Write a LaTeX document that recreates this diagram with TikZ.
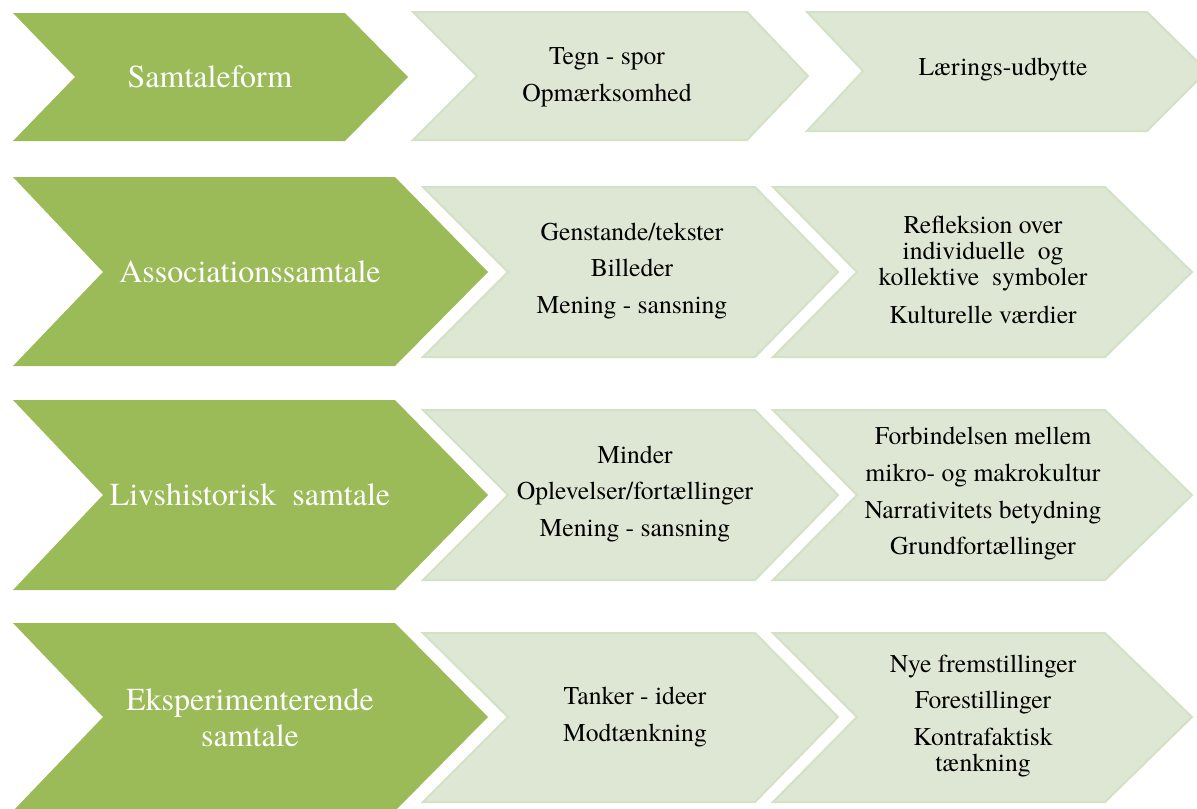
\documentclass[tikz,border=0pt]{standalone}
\usepackage{fontspec}
\setmainfont{TeX Gyre Termes}
\definecolor{olive}{RGB}{155,187,89}
\definecolor{pale}{RGB}{222,231,211}
\definecolor{paleline}{RGB}{212,225,196}
\tikzset{
  greentxt/.style={text=white,align=center,font=\fontsize{24}{27}\selectfont},
  blacktxt/.style={text=black,align=center,font=\fontsize{19.2}{19.5}\selectfont},
  palefill/.style={fill=pale,draw=paleline,line width=1.5}
}
\begin{document}
\begin{tikzpicture}[x=0.75pt,y=-0.75pt]
\clip (0,0) rectangle (1197,808);
\fill[white] (0,0) rectangle (1197,808);
% row 1
\fill[olive] (13,13) -- (345,13) -- (408,77) -- (345,141) -- (13,141) -- (75,77) -- cycle;
\draw[palefill] (413,12) -- (747,12) -- (808,76) -- (747,140) -- (413,140) -- (477,76) -- cycle;
\draw[palefill] (807,12) -- (1147,12) -- (1207,71) -- (1147,131) -- (807,131) -- (863,71) -- cycle;
\node[greentxt] (form) at (210,77) {Samtaleform};
\node[blacktxt] (tegn) at (607,77) {Tegn - spor\\[8pt]Opmærksomhed};
\node[blacktxt] (udbytte) at (1003,70) {Lærings-udbytte};
% row 2
\fill[olive] (13,177) -- (395,177) -- (488,272) -- (395,366) -- (13,366) -- (103,272) -- cycle;
\draw[palefill] (423,187) -- (755,187) -- (838,272) -- (755,357) -- (423,357) -- (508,272) -- cycle;
\draw[palefill] (773,187) -- (1105,187) -- (1192,272) -- (1105,357) -- (773,357) -- (857,272) -- cycle;
\node[greentxt] (assoc) at (250,272) {Associationssamtale};
\node[blacktxt] (genstande) at (632,271) {Genstande/tekster\\[8pt]Billeder\\[8pt]Mening - sansning};
\node[blacktxt] (refleksion) at (983,270) {Refleksion over\\individuelle\ \ og\\kollektive\ \ symboler\\[9pt]Kulturelle\ værdier};
% row 3
\fill[olive] (13,400) -- (395,400) -- (488,495) -- (395,590) -- (13,590) -- (103,495) -- cycle;
\draw[palefill] (423,410) -- (755,410) -- (838,495) -- (755,580) -- (423,580) -- (508,495) -- cycle;
\draw[palefill] (773,410) -- (1105,410) -- (1192,495) -- (1105,580) -- (773,580) -- (857,495) -- cycle;
\node[greentxt] (livs) at (250,495) {Livshistorisk\ \ samtale};
\node[blacktxt] (minder) at (635,494) {Minder\\[8pt]Oplevelser/fortællinger\\[8pt]Mening - sansning};
\node[blacktxt] (forbindelse) at (983,494) {Forbindelsen mellem\\[8pt]mikro- og makrokultur\\[8pt]Narrativitets betydning\\[8pt]Grundfortællinger};
% row 4
\fill[olive] (13,623) -- (395,623) -- (488,717) -- (395,811) -- (13,811) -- (103,717) -- cycle;
\draw[palefill] (423,633) -- (755,633) -- (838,717) -- (755,802) -- (423,802) -- (508,717) -- cycle;
\draw[palefill] (773,633) -- (1105,633) -- (1192,717) -- (1105,802) -- (773,802) -- (857,717) -- cycle;
\node[greentxt] (eksp) at (250,718) {Eksperimenterende\\[0pt]samtale};
\node[blacktxt] (tanker) at (635,717) {Tanker - ideer\\[8pt]Modtænkning};
\node[blacktxt] (nye) at (983,716) {Nye fremstillinger\\[8pt]Forestillinger\\[8pt]Kontrafaktisk\\tænkning};
\end{tikzpicture}
\end{document}
